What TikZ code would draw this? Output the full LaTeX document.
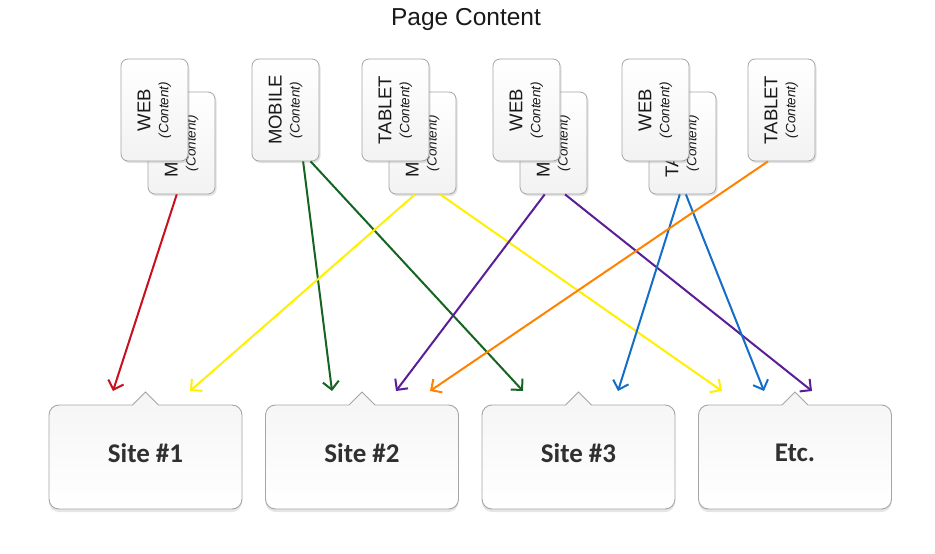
\documentclass[tikz,border=0pt]{standalone}
\usepackage{fontspec}
\setmainfont{Liberation Sans}
\newfontfamily\sitefont{Carlito}
\usetikzlibrary{arrows.meta,shadows,calc}
\definecolor{cred}{RGB}{200,16,30}
\definecolor{cyel}{RGB}{255,240,0}
\definecolor{cgreen}{RGB}{22,100,34}
\definecolor{cpurple}{RGB}{90,30,150}
\definecolor{corange}{RGB}{255,130,0}
\definecolor{cblue}{RGB}{20,110,200}
\definecolor{edgegray}{RGB}{165,165,165}
\definecolor{txt}{RGB}{25,25,25}
\tikzset{
  cardbox/.style={draw=edgegray, line width=0.8pt, rounded corners=7pt,
    minimum width=67pt, minimum height=102pt, inner sep=0pt,
    top color=white, bottom color=gray!10,
    drop shadow={opacity=0.22, shadow xshift=1.5pt, shadow yshift=-2pt}},
  cardtext/.style={rotate=90, align=center, text=txt,
    font=\fontsize{18.5}{18}\selectfont},
  sitebox/.style={draw=edgegray, line width=0.9pt, top color=gray!8, bottom color=white,
    drop shadow={opacity=0.2, shadow xshift=0pt, shadow yshift=-3pt}},
  sitelabel/.style={text=txt!90, font=\sitefont\bfseries\fontsize{27}{30}\selectfont},
  arr/.style={line width=2pt, -{Straight Barb[length=8pt,width=16pt,line width=2pt]}}
}
\newcommand\cont{{\fontsize{13.5}{18}\selectfont\itshape (Content)}}
\newcommand\calloutbox[1]{%
  \path[sitebox] (#1-96.5,415) arc[start angle=180, end angle=270, radius=10]
    -- (#1-13,405) -- (#1,392) -- (#1+13,405) -- (#1+86.5,405)
    arc[start angle=270, end angle=360, radius=10]
    -- (#1+96.5,499) arc[start angle=0, end angle=90, radius=10]
    -- (#1-86.5,509) arc[start angle=90, end angle=180, radius=10]
    -- cycle;}
\begin{document}
\begin{tikzpicture}[x=1pt,y=-1pt]
\useasboundingbox[fill=white] (0,0) rectangle (935,554);
\node[font=\fontsize{24.5}{26}\selectfont, text=txt] (title) at (466,19) {Page Content};

% cards group 1
\node[cardbox] (c1b) at (181.5,143) {};
\node[cardtext] (c1bt) at (c1b.center) {MOBILE\\\cont};
\node[cardbox] (c1) at (154.5,110) {};
\node[cardtext] (c1t) at (c1.center) {WEB\\\cont};
% card 2
\node[cardbox] (c2) at (285.5,110) {};
\node[cardtext] (c2t) at (c2.center) {MOBILE\\\cont};
% group 3
\node[cardbox] (c3b) at (422.5,143) {};
\node[cardtext] (c3bt) at (c3b.center) {MOBILE\\\cont};
\node[cardbox] (c3) at (395.5,110) {};
\node[cardtext] (c3t) at (c3.center) {TABLET\\\cont};
% group 4
\node[cardbox] (c4b) at (553.5,143) {};
\node[cardtext] (c4bt) at (c4b.center) {MOBILE\\\cont};
\node[cardbox] (c4) at (526.5,110) {};
\node[cardtext] (c4t) at (c4.center) {WEB\\\cont};
% group 5
\node[cardbox] (c5b) at (682.5,143) {};
\node[cardtext] (c5bt) at (c5b.center) {TABLET\\\cont};
\node[cardbox] (c5) at (655.5,110) {};
\node[cardtext] (c5t) at (c5.center) {WEB\\\cont};
% card 6
\node[cardbox] (c6) at (781.5,110) {};
\node[cardtext] (c6t) at (c6.center) {TABLET\\\cont};

% site boxes
\calloutbox{145.5}
\calloutbox{362}
\calloutbox{578.5}
\calloutbox{795}
\node[sitelabel] (s1) at (145.5,453) {Site \#1};
\node[sitelabel] (s2) at (362,453) {Site \#2};
\node[sitelabel] (s3) at (578.5,453) {Site \#3};
\node[sitelabel] (s4) at (795,453) {Etc.};

% arrow tips
\coordinate (t1) at (113,391);
\coordinate (t2) at (190,391);
\coordinate (t3) at (332,391);
\coordinate (t4) at (396,391);
\coordinate (t5) at (430,391);
\coordinate (t6) at (523,391);
\coordinate (t7) at (618,391);
\coordinate (t8) at (722,391);
\coordinate (t9) at (764,391);
\coordinate (t10) at (812,391);

\draw[arr, cred] ($(c1b.south west)!0.43!(c1b.south east)$) -- (t1);
\draw[arr, cgreen] ($(c2.south west)!0.76!(c2.south east)$) -- (t3);
\draw[arr, cgreen] ($(c2.south west)!0.87!(c2.south east)$) -- (t6);
\draw[arr, cyel] ($(c3b.south west)!0.39!(c3b.south east)$) -- (t2);
\draw[arr, cyel] ($(c3b.south west)!0.76!(c3b.south east)$) -- (t8);
\draw[arr, cpurple] ($(c4b.south west)!0.37!(c4b.south east)$) -- (t4);
\draw[arr, cpurple] ($(c4b.south west)!0.67!(c4b.south east)$) -- (t10);
\draw[arr, cblue] ($(c5b.south west)!0.46!(c5b.south east)$) -- (t7);
\draw[arr, cblue] ($(c5b.south west)!0.55!(c5b.south east)$) -- (t9);
\draw[arr, corange] ($(c6.south west)!0.30!(c6.south east)$) -- (t5);
\end{tikzpicture}
\end{document}
